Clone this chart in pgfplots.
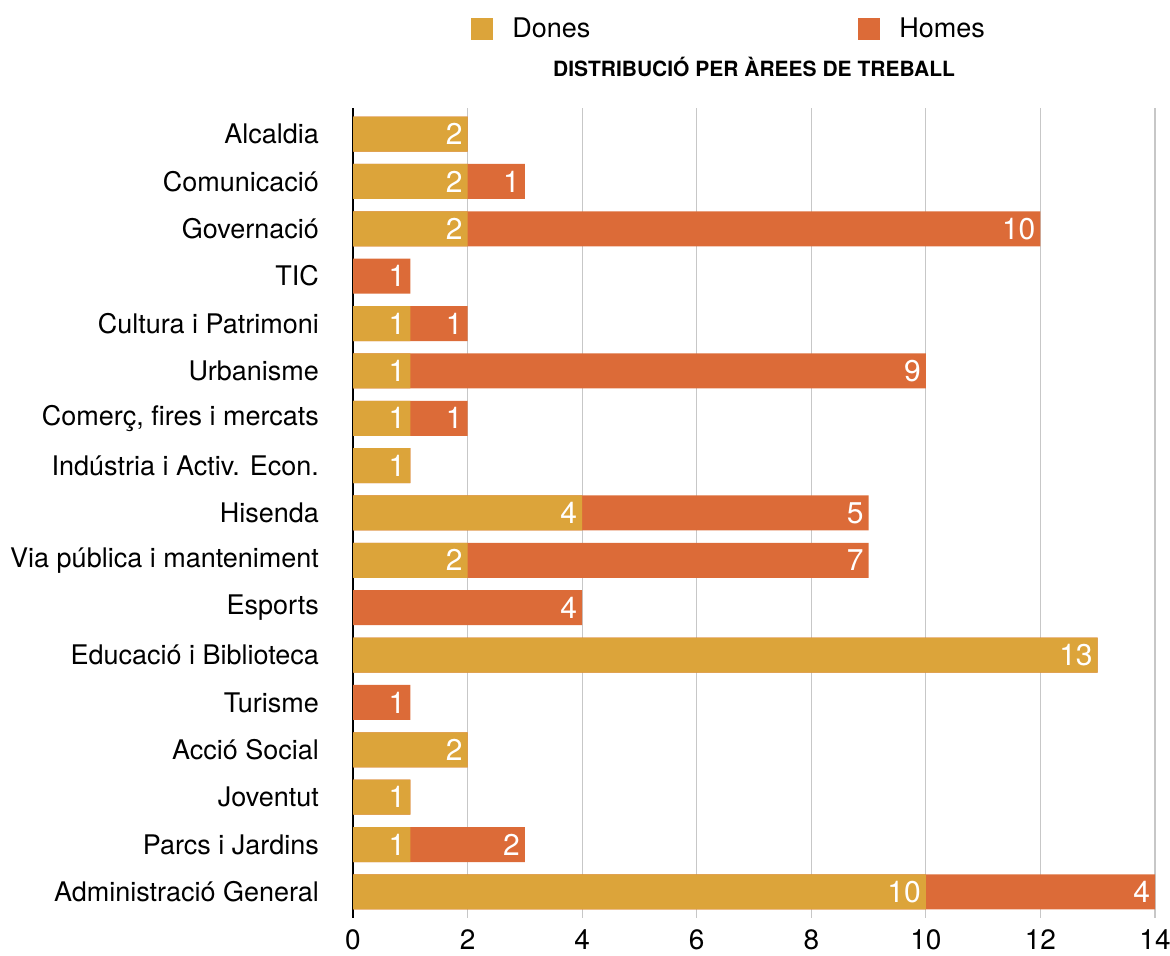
\documentclass[border=0pt]{standalone}
\usepackage{pgfplots}
\pgfplotsset{compat=1.18}
\usepackage{pgfplotstable}
\usepackage{fontspec}
\setmainfont{TeX Gyre Heros}
\definecolor{dones}{RGB}{220,164,58}
\definecolor{homes}{RGB}{220,107,56}

% y: category index (0 = bottom), d: Dones, h: Homes, t: total (end of Homes bar)
\pgfplotstableread{
y  d  h  t   dl  hl
0  10 4  14  10  4
1  1  2  3   1   2
2  1  0  1   1   {}
3  2  0  2   2   {}
4  0  1  1   {}  1
5  13 0  13  13  {}
6  0  4  4   {}  4
7  2  7  9   2   7
8  4  5  9   4   5
9  1  0  1   1   {}
10 1  1  2   1   1
11 1  9  10  1   9
12 1  1  2   1   1
13 0  1  1   {}  1
14 2  10 12  2   10
15 2  1  3   2   1
16 2  0  2   2   {}
}\areadata

\begin{document}
\begin{tikzpicture}
\useasboundingbox (0,0) rectangle (585pt,478pt);
\begin{axis}[
  at={(176.5pt,19pt)}, anchor=south west,
  scale only axis, width=401pt, height=405pt,
  xbar, bar width=17.5pt, bar shift=0pt,
  xmin=0, xmax=14, ymin=-0.55, ymax=16.55,
  axis lines*=left,
  x axis line style={draw=none},
  y axis line style={line width=1pt, black},
  xtick={0,2,...,14},
  ytick={0,...,16},
  yticklabels={Administració General,Parcs i Jardins,Joventut,Acció Social,Turisme,Educació i Biblioteca,Esports,Via pública i manteniment,Hisenda,{Indústria i Activ. Econ.},{Comerç, fires i mercats},Urbanisme,Cultura i Patrimoni,TIC,Governació,Comunicació,Alcaldia},
  major tick length=0pt,
  xmajorgrids,
  grid style={black!22, line width=0.6pt},
  /pgf/number format/assume math mode=true,
  xticklabel style={font=\fontsize{14}{14}\selectfont, yshift=-2.5pt},
  yticklabel style={font=\fontsize{13.5}{13.5}\selectfont, xshift=-13.5pt},
  title={\textbf{DISTRIBUCIÓ PER ÀREES DE TREBALL}},
  title style={font=\fontsize{10.5}{10.5}\selectfont, at={(axis description cs:0.5,1.0355)}, anchor=center},
  point meta=explicit symbolic,
  nodes near coords={\pgfplotspointmeta},
  every node near coord/.append style={anchor=east, xshift=1pt, text=white, font=\fontsize{15}{15}\selectfont},
  legend columns=2,
  legend style={draw=none, fill=none, inner sep=0pt, at={(axis description cs:0.147,1.097)}, anchor=west,
    font=\fontsize{13.5}{13.5}\selectfont,
    /tikz/every even column/.append style={column sep=132pt},
    /tikz/every odd column/.append style={column sep=7.5pt}},
  legend image code/.code={\fill[#1, draw=none] (0pt,-5.5pt) rectangle (11pt,5.5pt);},
]
\addlegendimage{fill=dones, draw=none}
\addlegendentry{Dones}
\addlegendimage{fill=homes, draw=none}
\addlegendentry{Homes}
\addplot[fill=homes, draw=none, forget plot] table[x=t, y=y, meta=hl] {\areadata};
\addplot[fill=dones, draw=none, forget plot] table[x=d, y=y, meta=dl] {\areadata};
\end{axis}
\end{tikzpicture}
\end{document}
